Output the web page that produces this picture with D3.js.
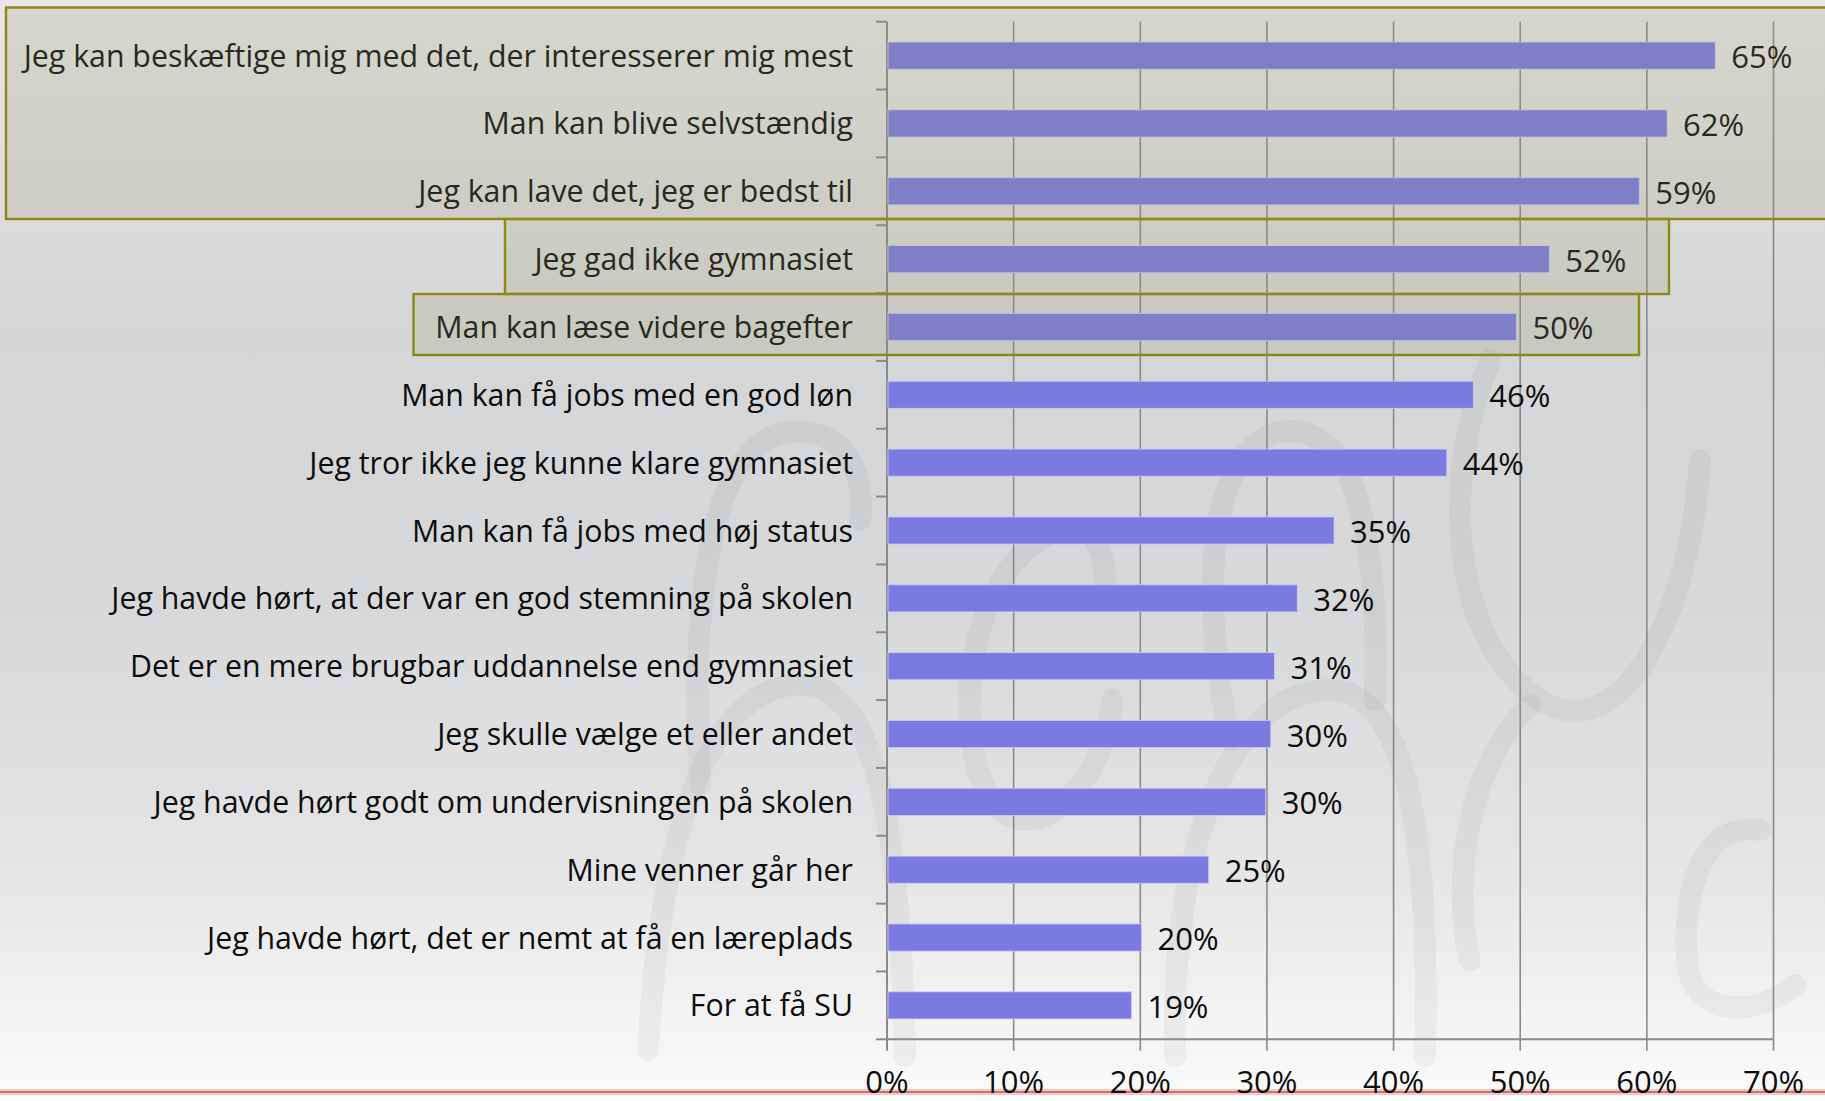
<!DOCTYPE html>
<html>
<head>
<meta charset="utf-8">
<script src="https://cdn.jsdelivr.net/npm/d3@7"></script>
<style>
  html, body { margin: 0; padding: 0; background: #fff; }
  svg { display: block; }
  text { font-family: "Open Sans", "Noto Sans", sans-serif; fill: #0d0d0d; }
</style>
</head>
<body>
<div id="chart"></div>
<script>
// reasons for choosing the education (share of answers, %)
const categories = [
  "Jeg kan beskæftige mig med det, der interesserer mig mest",
  "Man kan blive selvstændig",
  "Jeg kan lave det, jeg er bedst til",
  "Jeg gad ikke gymnasiet",
  "Man kan læse videre bagefter",
  "Man kan få jobs med en god løn",
  "Jeg tror ikke jeg kunne klare gymnasiet",
  "Man kan få jobs med høj status",
  "Jeg havde hørt, at der var en god stemning på skolen",
  "Det er en mere brugbar uddannelse end gymnasiet",
  "Jeg skulle vælge et eller andet",
  "Jeg havde hørt godt om undervisningen på skolen",
  "Mine venner går her",
  "Jeg havde hørt, det er nemt at få en læreplads",
  "For at få SU"
];
const values = [65.4, 61.6, 59.4, 52.3, 49.7, 46.3, 44.2, 35.3, 32.4, 30.6, 30.3, 29.9, 25.4, 20.1, 19.3];
const xTicks = [0, 10, 20, 30, 40, 50, 60, 70];

const W = 1825, H = 1101;
const plotLeft = 887, plotRight = 1773.5, plotTop = 21.7, plotBottom = 1039.3;

const svg = d3.select("#chart").append("svg")
  .attr("width", W).attr("height", H);

// background gradient
const defs = svg.append("defs");
const grad = defs.append("linearGradient")
  .attr("id", "bg").attr("x1", 0).attr("y1", 0).attr("x2", 0).attr("y2", 1);
[[0, "#e6e7e9"], [0.3, "#d5d6d8"], [0.55, "#d7d8da"], [0.8, "#e6e6e7"], [1, "#fbfbfb"]]
  .forEach(s => grad.append("stop").attr("offset", s[0]).attr("stop-color", s[1]));
svg.append("rect").attr("width", W).attr("height", H).attr("fill", "url(#bg)");

// faint script watermark behind the chart
const wm = svg.append("g")
  .attr("fill", "none")
  .attr("stroke", "rgba(0,0,0,0.04)")
  .attr("stroke-width", 22)
  .attr("stroke-linecap", "round");
[
  "M700 785 C690 600 710 440 790 432 C850 428 866 480 860 520",
  "M648 1050 C660 850 700 700 790 685 C870 675 900 800 905 1056",
  "M1105 600 C1110 520 1070 520 1040 540 C960 590 950 760 1000 810 C1050 850 1110 760 1112 700",
  "M1230 740 C1200 600 1205 450 1280 432 C1350 420 1380 520 1375 700",
  "M1175 1056 C1170 850 1230 690 1330 690 C1410 690 1430 850 1425 1056",
  "M1490 360 C1440 480 1450 640 1540 700 C1620 750 1690 620 1700 460",
  "M1530 705 C1470 760 1450 880 1470 960",
  "M1760 830 C1700 820 1680 900 1688 970 C1700 1020 1760 1015 1795 985"
].forEach(p => wm.append("path").attr("d", p));

const x = d3.scaleLinear().domain([0, 70]).range([plotLeft, plotRight]);
const y = d3.scaleBand().domain(categories).range([plotTop, plotBottom])
  .paddingInner(0.6).paddingOuter(0.3);

// gridlines (extend below axis as ticks)
svg.append("g").selectAll("line").data(xTicks.slice(1)).join("line")
  .attr("x1", d => x(d)).attr("x2", d => x(d))
  .attr("y1", plotTop).attr("y2", plotBottom + 11.5)
  .attr("stroke", "#8a8a8a").attr("stroke-width", 1.6);

// y axis line + ticks at band boundaries
const step = y.step();
svg.append("line")
  .attr("x1", plotLeft).attr("x2", plotLeft)
  .attr("y1", plotTop).attr("y2", plotBottom + 11.5)
  .attr("stroke", "#8a8a8a").attr("stroke-width", 2);
svg.append("g").selectAll("line").data(d3.range(categories.length + 1)).join("line")
  .attr("x1", plotLeft - 11).attr("x2", plotLeft)
  .attr("y1", i => plotTop + i * step).attr("y2", i => plotTop + i * step)
  .attr("stroke", "#8a8a8a").attr("stroke-width", 2);

// x axis line
svg.append("line")
  .attr("x1", plotLeft).attr("x2", plotRight)
  .attr("y1", plotBottom).attr("y2", plotBottom)
  .attr("stroke", "#8a8a8a").attr("stroke-width", 2);

// bars
svg.append("g").selectAll("rect").data(values).join("rect")
  .attr("x", x(0) + 1)
  .attr("y", (d, i) => y(categories[i]))
  .attr("width", d => x(d) - x(0) - 1)
  .attr("height", y.bandwidth())
  .attr("fill", "#7a7ae0")
  .attr("stroke", "rgba(205,205,250,0.8)")
  .attr("stroke-width", 1);

// category labels
svg.append("g").selectAll("text").data(categories).join("text")
  .attr("x", 853)
  .attr("y", d => y(d) + y.bandwidth() / 2 + 11)
  .attr("text-anchor", "end")
  .attr("font-size", 30.3)
  .text(d => d);

// value labels
svg.append("g").selectAll("text").data(values).join("text")
  .attr("x", d => x(d) + 16)
  .attr("y", (d, i) => y(categories[i]) + y.bandwidth() / 2 + 12.5)
  .attr("font-size", 31)
  .text(d => Math.round(d) + "%");

// highlight boxes (annotation)
const boxes = [
  { x0: 6, x1: 1840, y0: 7.5, y1: 219 },
  { x0: 505, x1: 1669, y0: 219, y1: 294 },
  { x0: 413.5, x1: 1639, y0: 294, y1: 355 }
];
svg.append("g").selectAll("rect").data(boxes).join("rect")
  .attr("x", d => d.x0).attr("y", d => d.y0)
  .attr("width", d => d.x1 - d.x0).attr("height", d => d.y1 - d.y0)
  .attr("fill", "rgba(150,150,100,0.2)")
  .attr("stroke", "#8c8a10").attr("stroke-width", 2.4);

// red rule at bottom
svg.append("line").attr("x1", 0).attr("x2", W).attr("y1", 1092).attr("y2", 1092)
  .attr("stroke", "rgba(235,170,160,0.6)").attr("stroke-width", 6);
svg.append("line").attr("x1", 0).attr("x2", W).attr("y1", 1092).attr("y2", 1092)
  .attr("stroke", "#b8584e").attr("stroke-width", 1.6);

// x tick labels
svg.append("g").selectAll("text").data(xTicks).join("text")
  .attr("x", d => x(d))
  .attr("y", 1092.5)
  .attr("text-anchor", "middle")
  .attr("font-size", 31)
  .text(d => d + "%");
</script>
</body>
</html>
